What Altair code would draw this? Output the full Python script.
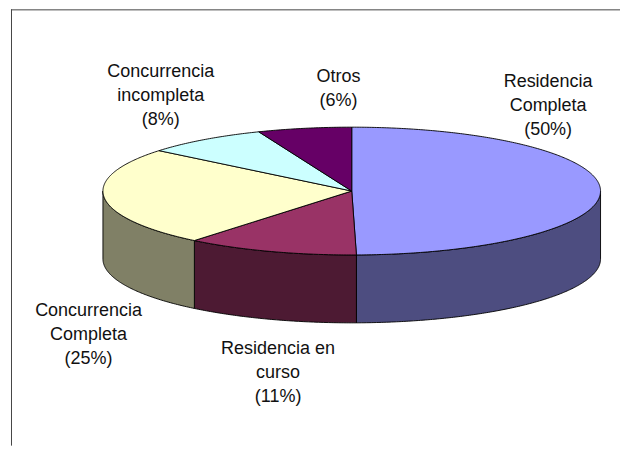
import numpy as np
import pandas as pd
import altair as alt

# Slice values, clockwise from 12 o'clock
categories = ["Residencia Completa", "Residencia en curso", "Concurrencia Completa",
              "Concurrencia incompleta", "Otros"]
shares = [49.7, 11.2, 25.0, 8.0, 6.1]
top_colors = ["#9999FF", "#993366", "#FFFFCC", "#CCFFFF", "#660066"]
side_colors = ["#4D4D80", "#4D1A33", "#808066", "#668080", "#330033"]
labels = ["Residencia\nCompleta\n(50%)", "Residencia en\ncurso\n(11%)",
          "Concurrencia\nCompleta\n(25%)", "Concurrencia\nincompleta\n(8%)", "Otros\n(6%)"]

# Layout, in page pixels
label_x = [549, 278.5, 88.7, 161, 339]
label_y = [87, 354, 316, 77, 82]
PAGE_W, PAGE_H, MARGIN = 621, 446, 8
CX, CY, RX, RY, DEPTH = 352.3, 191, 249.2, 64, 68
W, H = PAGE_W - MARGIN, PAGE_H - MARGIN

x_dom = [(MARGIN - CX) / RX, (PAGE_W - CX) / RX]
y_dom = [(CY - PAGE_H) / RY, (CY - MARGIN) / RY]
x_scale = alt.Scale(domain=x_dom, nice=False, zero=False)
y_scale = alt.Scale(domain=y_dom, nice=False, zero=False)

edges = np.concatenate([[0], np.cumsum(shares)]) / np.sum(shares) * 2 * np.pi
drop = DEPTH / RY


def arc(a, b):
    n = max(2, int(abs(b - a) / 0.01))
    t = np.linspace(a, b, n)
    return np.sin(t), np.cos(t)


top_rows, side_rows = [], []
for i, cat in enumerate(categories):
    a, b = edges[i], edges[i + 1]
    xs, ys = arc(a, b)
    px = np.concatenate([[0], xs])
    py = np.concatenate([[0], ys])
    for k, (u, v) in enumerate(zip(px, py)):
        top_rows.append({"cat": cat, "k": k, "x": u, "y": v})
    # the visible wall runs over the front half of the rim only
    lo, hi = max(a, np.pi / 2), min(b, 3 * np.pi / 2)
    if lo < hi:
        xs, ys = arc(lo, hi)
        px = np.concatenate([xs, xs[::-1]])
        py = np.concatenate([ys, ys[::-1] - drop])
        for k, (u, v) in enumerate(zip(px, py)):
            side_rows.append({"cat": cat, "k": k, "x": u, "y": v})

top_df = pd.DataFrame(top_rows)
side_df = pd.DataFrame(side_rows)


def faces(df, colors):
    return alt.Chart(df).mark_line(
        interpolate="linear-closed", stroke="black", strokeWidth=0.9, strokeJoin="round"
    ).encode(
        x=alt.X("x:Q", scale=x_scale, axis=None),
        y=alt.Y("y:Q", scale=y_scale, axis=None),
        detail="cat:N",
        order="k:Q",
        fill=alt.Fill("cat:N", scale=alt.Scale(domain=categories, range=colors), legend=None),
    )


frame_top = alt.Chart(pd.DataFrame({"a": [0]})).mark_rule(color="#444444", strokeWidth=1).encode(
    x=alt.value(3), x2=alt.value(W), y=alt.value(1.5))
frame_left = alt.Chart(pd.DataFrame({"a": [0]})).mark_rule(color="#444444", strokeWidth=1).encode(
    x=alt.value(3.5), y=alt.value(1), y2=alt.value(H))

label_df = pd.DataFrame({"t": labels, "px": [v - MARGIN for v in label_x],
                         "py": [v - MARGIN for v in label_y]})
text = alt.Chart(label_df).mark_text(
    font="Liberation Sans", fontSize=18, lineBreak="\n", lineHeight=24,
    align="center", baseline="alphabetic", color="#111111"
).encode(
    x=alt.X("px:Q", scale=None),
    y=alt.Y("py:Q", scale=None),
    text="t:N",
)

chart = alt.layer(frame_top, frame_left, faces(side_df, side_colors), faces(top_df, top_colors), text).resolve_scale(
    fill="independent"
).properties(width=W, height=H, padding=0, background="white").configure_view(stroke=None)

chart.save("out.html", embed_options={"renderer": "svg", "actions": False})
